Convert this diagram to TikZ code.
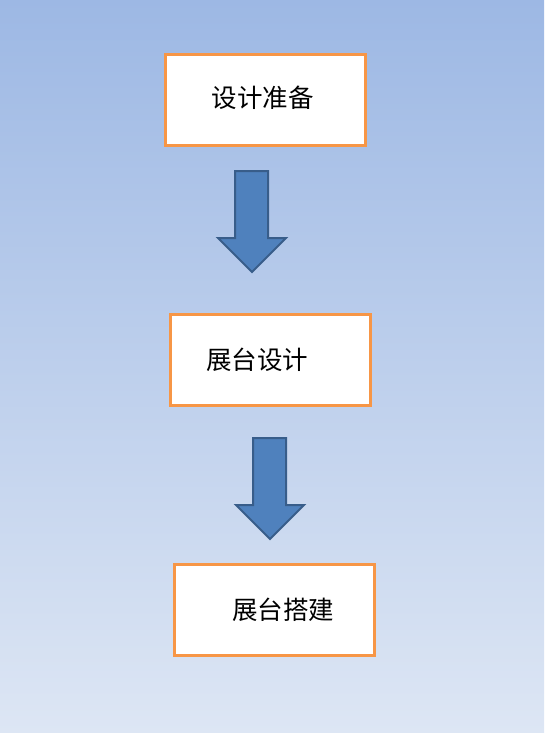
\documentclass[tikz,border=0pt]{standalone}
\usepackage{fontspec}
\newfontfamily\cjk{Noto Sans CJK SC}
\definecolor{bgtop}{RGB}{157,184,228}
\definecolor{bgbot}{RGB}{221,230,244}
\definecolor{boxorange}{RGB}{247,150,70}
\definecolor{arrfill}{RGB}{79,129,189}
\definecolor{arrline}{RGB}{56,93,138}
\tikzset{
  stepbox/.style={draw=boxorange, line width=3pt, fill=white, minimum width=200pt, minimum height=91pt, inner sep=0pt},
  steptext/.style={font=\cjk\fontsize{25.5}{25.5}\selectfont, anchor=center, inner sep=0pt},
  blockarrow/.style={fill=arrfill, draw=arrline, line width=2pt, line join=miter}
}
\begin{document}
\begin{tikzpicture}[x=1pt,y=-1pt]
\shade[top color=bgtop, bottom color=bgbot] (0,0) rectangle (544,733);
\useasboundingbox (0,0) rectangle (544,733);
\node[stepbox] (b1) at (265.5,100) {};
\node[steptext] (t1) at (262.5,97.5) {设计准备};
\node[stepbox] (b2) at (270.5,359.5) {};
\node[steptext] (t2) at (257,360) {展台设计};
\node[stepbox] (b3) at (274,610) {};
\node[steptext] (t3) at (283,610) {展台搭建};
% block arrows
\draw[blockarrow] (235,171) -- (268,171) -- (268,238) -- (286,238) -- (252,272) -- (218,238) -- (235,238) -- cycle;
\draw[blockarrow] (253,438) -- (286,438) -- (286,505) -- (304,505) -- (270,539) -- (236,505) -- (253,505) -- cycle;
\end{tikzpicture}
\end{document}
